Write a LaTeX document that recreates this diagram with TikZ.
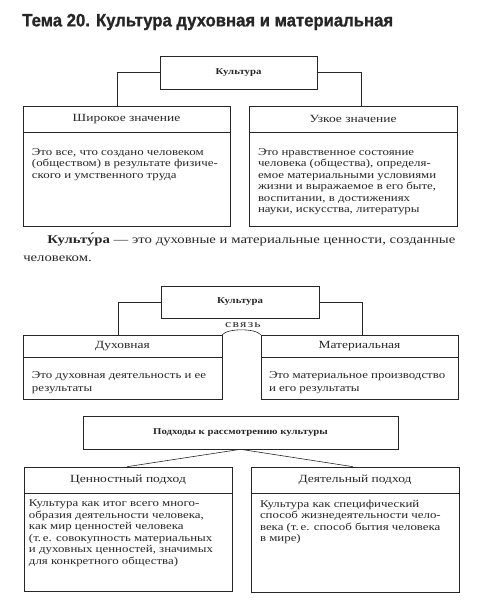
\documentclass[tikz,border=0pt]{standalone}
\usepackage{fontspec}
\setmainfont{Liberation Serif}
\newfontfamily\bodyfont{Liberation Serif}[FakeStretch=1.23]
\newfontfamily\boxfont{Liberation Serif}[FakeStretch=1.2]
\newfontfamily\linkfont{Liberation Serif}[FakeStretch=1.32, LetterSpace=12]
\newfontfamily\titlefont{Liberation Sans Bold}[FakeStretch=0.93, FakeBold=1]
\usetikzlibrary{positioning}

\begin{document}
\begin{tikzpicture}[
    x=1bp, y=-1bp, line width=0.6bp, color=black!85,
    topbox/.style={draw, minimum height=33bp, inner sep=0pt,
                   font=\boxfont\bfseries\fontsize{9}{11}\selectfont},
    headbox/.style={draw, minimum height=26bp, inner sep=0pt,
                    font=\bodyfont\fontsize{11}{12}\selectfont},
    framebox/.style={draw, inner sep=0pt},
    bodytext/.style={anchor=north west, align=left, inner sep=0pt,
                     font=\bodyfont\fontsize{10.5}{11.5}\selectfont},
    linktext/.style={font=\linkfont\fontsize{10.5}{11}\selectfont, inner sep=0pt}
  ]
  \useasboundingbox (0,0) rectangle (478,604);

  % Title
  \node[anchor=west, inner sep=0pt, font=\titlefont\fontsize{18}{20}\selectfont]
    (title) at (22,22) {Тема 20. Культура духовная и материальная};

  % Block 1 -- broad and narrow meaning
  \node[topbox, minimum width=157bp] (cult1) at (238.5,72.5) {Культура};
  \node[headbox, minimum width=207bp] (wide) at (126.5,119) {Широкое значение};
  \node[framebox, minimum width=207bp, minimum height=94bp, below=0pt of wide] (wideb) {};
  \node[headbox, minimum width=208bp] (narrow) at (353,119) {Узкое значение};
  \node[framebox, minimum width=208bp, minimum height=94bp, below=0pt of narrow] (narrowb) {};

  \node[bodytext] (widet) at ([xshift=9bp,yshift=-16bp]wideb.north west)
    {Это все, что создано человеком\\(обществом) в результате физиче-\\ского и умственного труда};
  \node[bodytext] (narrowt) at ([xshift=9bp,yshift=-16bp]narrowb.north west)
    {Это нравственное состояние\\человека (общества), определя-\\емое материальными условиями\\жизни и выражаемое в его быте,\\воспитании, в достижениях\\науки, искусства, литературы};

  \draw (cult1.west) -| ([xshift=-9.5bp]wide.north);
  \draw (cult1.east) -| ([xshift=8bp]narrow.north);

  % Definition
  \node[anchor=north west, align=left, inner sep=0pt,
        font=\bodyfont\fontsize{12}{18}\selectfont] (defn) at (23,233)
    {\hspace*{24bp}\makebox[408bp][s]{\textbf{Культу́ра} — это духовные и материальные ценности, созданные}\\человеком.};

  % Block 2 -- spiritual and material
  \node[topbox, minimum width=158bp, minimum height=32bp] (cult2) at (240,302) {Культура};
  \node[headbox, minimum width=199bp, minimum height=22bp] (spirit) at (122.5,346) {Духовная};
  \node[framebox, minimum width=199bp, minimum height=42bp, below=0pt of spirit] (spiritb) {};
  \node[headbox, minimum width=197bp, minimum height=22bp] (matter) at (359.5,346) {Материальная};
  \node[framebox, minimum width=197bp, minimum height=42bp, below=0pt of matter] (matterb) {};

  \node[bodytext, font=\bodyfont\fontsize{10.5}{13.5}\selectfont] (spiritt) at ([xshift=9bp,yshift=-14bp]spiritb.north west)
    {Это духовная деятельность и ее\\результаты};
  \node[bodytext, font=\bodyfont\fontsize{10.5}{13.5}\selectfont] (mattert) at ([xshift=8bp,yshift=-14bp]matterb.north west)
    {Это материальное производство\\и его результаты};

  \draw (cult2.west) -| ([xshift=-4.5bp]spirit.north);
  \draw (cult2.east) -| ([xshift=2.5bp]matter.north);
  \draw (spirit.north east) .. controls +(5,-6.5) and +(-5,-6.5) .. (matter.north west);
  \node[linktext] (link) at (243,325) {связь};

  % Block 3 -- approaches
  \node[topbox, minimum width=315bp] (appr) at (240.5,432.5) {Подходы к рассмотрению культуры};
  \node[headbox, minimum width=208bp] (value) at (128,480) {Ценностный подход};
  \node[framebox, minimum width=208bp, minimum height=98bp, below=0pt of value] (valueb) {};
  \node[headbox, minimum width=208bp] (activ) at (355,480) {Деятельный подход};
  \node[framebox, minimum width=208bp, minimum height=99bp, below=0pt of activ] (activb) {};

  \node[bodytext] (valuet) at ([xshift=5bp,yshift=-6.5bp]valueb.north west)
    {Культура как итог всего много-\\образия деятельности человека,\\как мир ценностей человека\\(т.\,е. совокупность материальных\\и духовных ценностей, значимых\\для конкретного общества)};
  \node[bodytext] (activt) at ([xshift=9bp,yshift=-6.5bp]activb.north west)
    {Культура как специфический\\способ жизнедеятельности чело-\\века (т.\,е. способ бытия человека\\в мире)};

  \draw (appr.south) -- ([xshift=-1bp]value.north);
  \draw (appr.south) -- ([xshift=-2bp]activ.north);

\end{tikzpicture}
\end{document}
